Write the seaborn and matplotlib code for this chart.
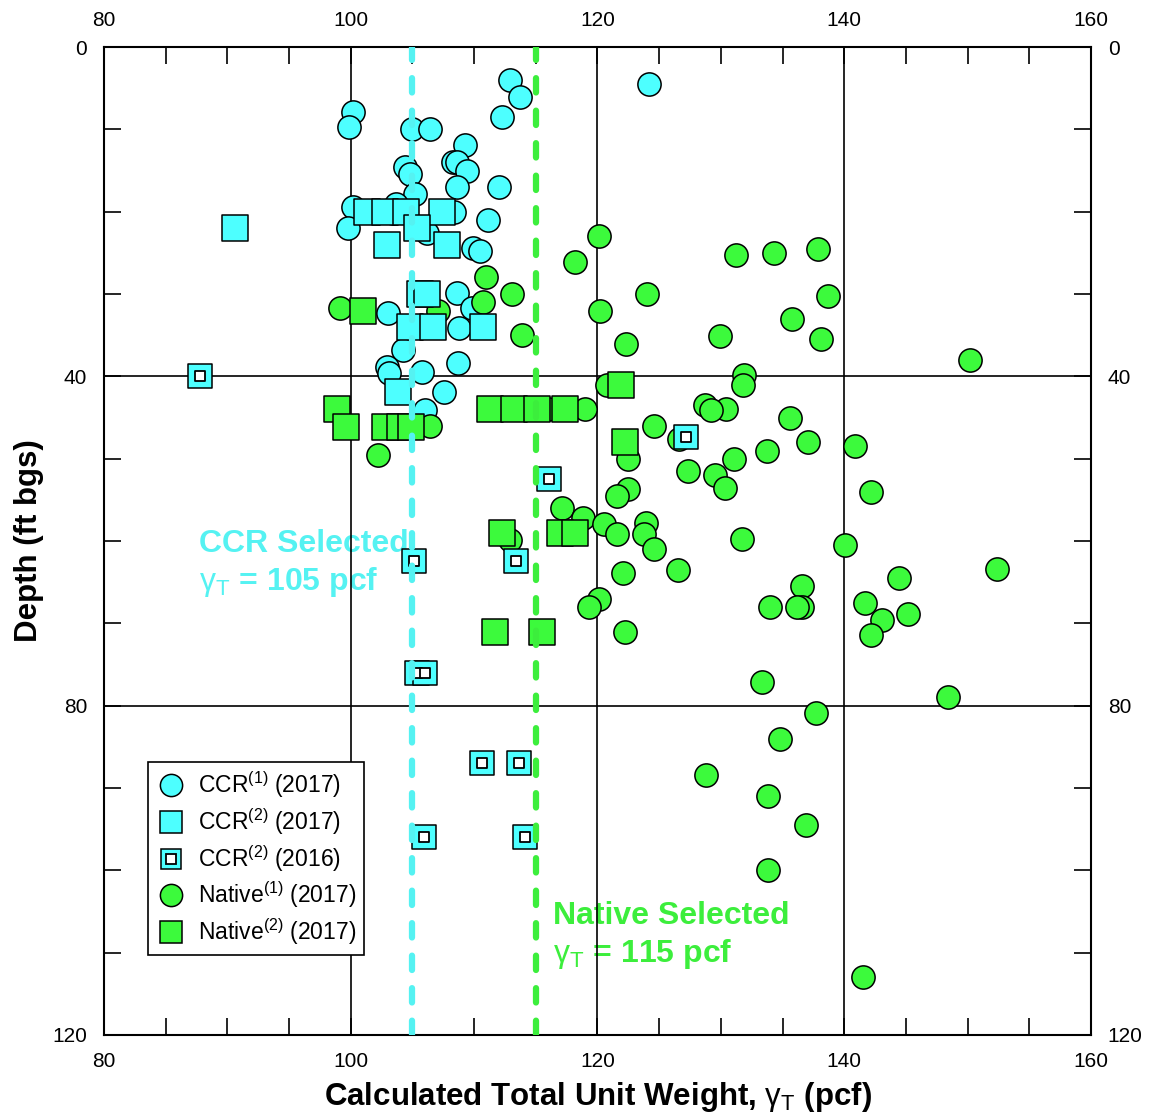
import matplotlib
matplotlib.use("Agg")
import matplotlib.pyplot as plt
import seaborn as sns
import pandas as pd
from matplotlib.lines import Line2D
from matplotlib.ticker import MultipleLocator, FixedLocator

# ---- data: calculated total unit weight (pcf) vs depth (ft bgs) ----
ccr1_2017_weight = [112.9, 113.7, 112.3, 100.2, 99.9, 105.0, 106.4, 109.3, 108.3, 108.6,
                    109.4, 104.4, 104.8, 108.6, 112.0, 105.2, 100.2, 103.7, 103.4, 108.4,
                    99.8, 111.1, 106.2, 109.9, 110.5, 108.6, 109.8, 103.0, 108.8, 104.2,
                    102.9, 103.1, 105.8, 108.7, 107.6, 106.0, 124.2]
ccr1_2017_depth = [4.0, 6.1, 8.5, 7.9, 9.7, 10.0, 10.0, 11.9, 14.0, 14.0,
                   15.0, 14.5, 15.4, 17.0, 17.0, 17.8, 19.4, 19.0, 20.2, 20.0,
                   22.0, 21.0, 22.6, 24.4, 24.8, 29.9, 31.7, 32.3, 34.1, 36.8,
                   38.9, 39.6, 39.5, 38.4, 41.9, 44.1, 4.5]

ccr2_2017_weight = [90.6, 101.3, 102.8, 104.5, 107.4, 105.4, 102.9, 107.8, 105.6, 106.2,
                    104.8, 106.7, 110.7, 103.8]
ccr2_2017_depth = [22.0, 20.0, 20.0, 20.0, 20.0, 22.0, 24.0, 24.0, 30.0, 30.0,
                   34.0, 34.0, 34.0, 41.9]

ccr2_2016_weight = [87.8, 127.2, 116.1, 105.1, 113.4, 105.4, 106.0, 110.6, 113.6, 105.9, 114.1]
ccr2_2016_depth = [40.0, 47.4, 52.4, 62.4, 62.4, 76.0, 76.0, 87.0, 87.0, 96.0, 96.0]

native1_2017_weight = [99.1, 111.0, 110.7, 113.1, 107.1, 113.9, 106.4, 102.2,
                       120.1, 118.2, 131.2, 134.3, 137.9, 124.0, 138.7, 120.2, 135.8, 129.9,
                       122.3, 138.1, 150.2, 131.9, 131.8, 120.8, 119.0, 116.0, 128.7, 130.4,
                       129.2, 124.6, 135.6, 126.6, 137.1, 140.9, 122.5, 133.7, 131.1, 127.3,
                       129.5, 130.3, 142.2, 122.5, 121.6, 117.1, 118.8, 120.5, 121.6, 123.9,
                       123.8, 124.6, 131.7, 140.1, 112.9, 122.1, 126.5, 152.4, 144.4, 136.6,
                       120.1, 119.3, 134.0, 136.6, 136.2, 141.7, 145.2, 143.1, 142.2, 122.2,
                       133.3, 148.4, 137.7, 134.8, 128.8, 133.8, 136.9, 133.8, 141.5]
native1_2017_depth = [31.7, 27.9, 31.0, 30.0, 32.0, 35.0, 46.0, 49.6,
                      22.9, 26.1, 25.3, 25.0, 24.5, 30.0, 30.2, 32.0, 33.0, 35.1,
                      36.0, 35.5, 38.0, 39.8, 41.1, 41.0, 44.0, 44.0, 43.5, 44.0,
                      44.1, 46.0, 45.0, 47.6, 48.0, 48.5, 50.0, 49.0, 50.0, 51.5,
                      52.0, 53.6, 54.0, 53.7, 54.5, 56.0, 57.2, 57.9, 59.1, 57.8,
                      59.1, 61.0, 59.8, 60.5, 59.9, 63.9, 63.5, 63.4, 64.5, 65.5,
                      67.0, 68.0, 68.0, 68.0, 68.0, 67.5, 68.8, 69.6, 71.4, 71.0,
                      77.1, 79.0, 80.9, 84.1, 88.4, 91.0, 94.5, 100.0, 113.0]

native2_2017_weight = [101.0, 98.9, 99.6, 102.8, 104.0, 104.9, 111.3, 113.2, 115.1, 117.4,
                       121.9, 122.2, 112.3, 117.0, 118.2, 111.7, 115.5]
native2_2017_depth = [32.1, 44.0, 46.1, 46.1, 46.1, 46.1, 44.0, 44.0, 44.0, 44.0,
                      41.0, 48.0, 59.0, 59.0, 59.0, 71.0, 71.0]

ccr_selected = 105
native_selected = 115

legend_labels = ["CCR$^{(1)}$ (2017)", "CCR$^{(2)}$ (2017)", "CCR$^{(2)}$ (2016)",
                 "Native$^{(1)}$ (2017)", "Native$^{(2)}$ (2017)"]
x_ticks = [80, 100, 120, 140, 160]
y_ticks = [0, 40, 80, 120]

# ---- style ----
sns.set_theme(style="ticks")
plt.rcParams['font.family'] = ['Liberation Sans', 'DejaVu Sans']
plt.rcParams['mathtext.fontset'] = 'custom'
plt.rcParams['mathtext.rm'] = 'Liberation Sans'
plt.rcParams['mathtext.it'] = 'Liberation Sans:italic'
plt.rcParams['mathtext.bf'] = 'Liberation Sans:bold'
for key in ("text.color", "axes.labelcolor", "xtick.color", "ytick.color", "axes.edgecolor"):
    plt.rcParams[key] = "black"

CYAN = "#4DFFFF"
GREEN = "#3CFA3C"
CYAN_LINE = "#55F2F2"
GREEN_LINE = "#3CEE3C"

fig = plt.figure(figsize=(11.49, 11.2), dpi=100)
ax = fig.add_axes([0.0905, 0.0759, 0.859, 0.882])

circle_s = 280
square_s = 330
edge_kw = dict(edgecolor="black", linewidth=1.1)

def frame(w, d):
    return pd.DataFrame({"weight": w, "depth": d})

sns.scatterplot(data=frame(ccr1_2017_weight, ccr1_2017_depth), x="weight", y="depth",
                marker="o", s=circle_s, color=CYAN, zorder=3, ax=ax, **edge_kw)
sns.scatterplot(data=frame(native1_2017_weight, native1_2017_depth), x="weight", y="depth",
                marker="o", s=circle_s, color=GREEN, zorder=3, ax=ax, **edge_kw)
sns.scatterplot(data=frame(ccr2_2017_weight, ccr2_2017_depth), x="weight", y="depth",
                marker="s", s=square_s, color=CYAN, zorder=4, ax=ax, **edge_kw)
sns.scatterplot(data=frame(native2_2017_weight, native2_2017_depth), x="weight", y="depth",
                marker="s", s=square_s, color=GREEN, zorder=4, ax=ax, **edge_kw)
# 2016 CCR: cyan square with a white core
sns.scatterplot(data=frame(ccr2_2016_weight, ccr2_2016_depth), x="weight", y="depth",
                marker="s", s=300, color=CYAN, zorder=4, ax=ax, **edge_kw)
sns.scatterplot(data=frame(ccr2_2016_weight, ccr2_2016_depth), x="weight", y="depth",
                marker="s", s=50, color="white", zorder=4.5, ax=ax,
                edgecolor="black", linewidth=1.3)

# selected design values
ax.axvline(ccr_selected, color=CYAN_LINE, lw=4.5, ls=(0, (2.3, 2.9)),
           dash_capstyle="round", zorder=6)
ax.axvline(native_selected, color=GREEN_LINE, lw=4.5, ls=(0, (2.3, 2.9)),
           dash_capstyle="round", zorder=6)

note_kw = dict(fontsize=23, fontweight="bold", va="center", ha="left", zorder=0.3)
gamma = r"$\mathrm{\gamma}_{\mathrm{T}}$"
ax.text(87.7, 60.4, "CCR Selected", color=CYAN_LINE, **note_kw)
ax.text(87.7, 65.0, gamma + " = 105 pcf", color=CYAN_LINE, **note_kw)
ax.text(116.4, 105.6, "Native Selected", color=GREEN_LINE, **note_kw)
ax.text(116.4, 110.2, gamma + " = 115 pcf", color=GREEN_LINE, **note_kw)

# axes, grid and ticks
ax.set_xlim(80, 160)
ax.set_ylim(120, 0)
ax.xaxis.set_major_locator(FixedLocator(x_ticks))
ax.yaxis.set_major_locator(FixedLocator(y_ticks))
ax.xaxis.set_minor_locator(MultipleLocator(5))
ax.yaxis.set_minor_locator(MultipleLocator(10))
ax.grid(True, which="major", color="black", lw=1.2)
ax.set_axisbelow(True)
ax.tick_params(which="both", direction="in", top=True, right=True, bottom=True, left=True,
               labeltop=True, labelright=True, color="black", width=1.2, length=12,
               labelsize=15, pad=12)
for s in ax.spines.values():
    s.set_color("black")
    s.set_linewidth(1.5)

ax.set_xlabel("Calculated Total Unit Weight, " + gamma + " (pcf)",
              fontsize=22.5, fontweight="bold", labelpad=7)
ax.set_ylabel("Depth (ft bgs)", fontsize=22.5, fontweight="bold", labelpad=6)

# legend
handles = [
    Line2D([], [], ls="none", marker="o", ms=16, mfc=CYAN, mec="black", mew=1.1),
    Line2D([], [], ls="none", marker="s", ms=16.5, mfc=CYAN, mec="black", mew=1.1),
    (Line2D([], [], ls="none", marker="s", ms=15, mfc=CYAN, mec="black", mew=1.1),
     Line2D([], [], ls="none", marker="s", ms=6.5, mfc="white", mec="black", mew=1.3)),
    Line2D([], [], ls="none", marker="o", ms=16, mfc=GREEN, mec="black", mew=1.1),
    Line2D([], [], ls="none", marker="s", ms=16.5, mfc=GREEN, mec="black", mew=1.1),
]
leg = ax.legend(handles, legend_labels, loc="lower left", bbox_to_anchor=(0.045, 0.081),
                fontsize=16.5, frameon=True, fancybox=False, edgecolor="black",
                framealpha=1, borderpad=0.35, labelspacing=0.26, handletextpad=0.55,
                handlelength=1.25, borderaxespad=0)
leg.get_frame().set_linewidth(1.2)
leg.set_zorder(7)

fig.savefig("out.png", dpi=100)
